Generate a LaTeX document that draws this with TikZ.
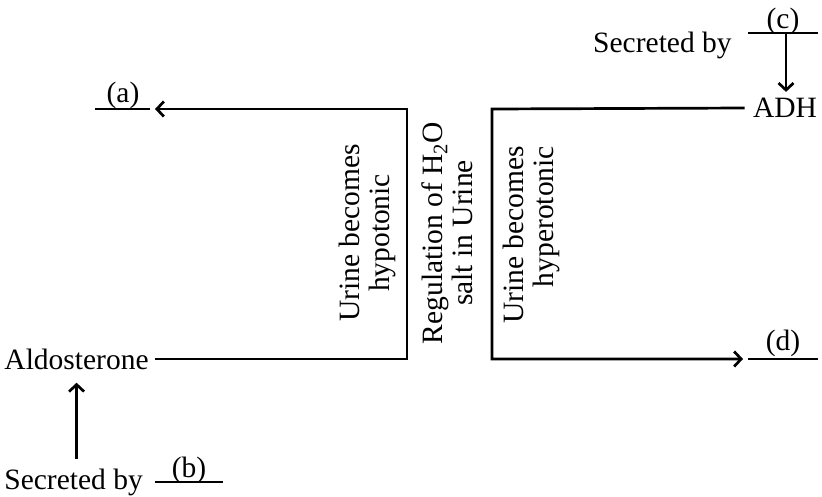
\documentclass[tikz,border=0pt]{standalone}
\usepackage{fontspec}
\setmainfont{Liberation Serif}
\usetikzlibrary{arrows.meta}
\begin{document}
\begin{tikzpicture}[x=1pt,y=-1pt,line width=2.7pt,
  txt/.style={inner sep=0pt,font=\fontsize{29.5}{30}\selectfont},
  arr/.style={-{Straight Barb[length=7pt,width=15pt]}}]
\useasboundingbox (0,0) rectangle (822,496);
% text nodes
\node[txt,anchor=east] (ald) at (150,359) {Aldosterone};
\node[txt,anchor=base west] (sbB) at (3,489) {Secreted by};
\node[txt,anchor=base] (b) at (189,477) {(b)};
\node[txt,anchor=base] (a) at (123,102) {(a)};
\node[txt] (adh) at (785,108) {ADH};
\node[txt,anchor=base east] (sbC) at (733,52) {Secreted by};
\node[txt,anchor=base] (c) at (783,28) {(c)};
\node[txt,anchor=base] (d) at (783,350) {(d)};
\node[txt,rotate=90,align=center] (hypo) at (367,233) {Urine becomes\\hypotonic};
\node[txt,rotate=90,align=center] (reg) at (447,233) {Regulation of H\textsubscript{2}O\\salt in Urine};
\node[txt,rotate=90,align=right] (hyper) at (531,235) {Urine becomes\\hyperotonic};
% coordinates
\coordinate (LT) at (407,109);
\coordinate (LB) at (407,359);
\coordinate (RT) at (492,109);
\coordinate (RB) at (492,359);
\coordinate (aL) at (95,109);
\coordinate (aR) at (150,109);
\coordinate (aTip) at (155,109);
\coordinate (bL) at (155,482);
\coordinate (bR) at (223,482);
\coordinate (cL) at (748,33);
\coordinate (cR) at (818,33);
\coordinate (cTop) at (786,33);
\coordinate (dL) at (748,359);
\coordinate (dR) at (818,359);
\coordinate (dTip) at (743,359);
% connectors
\draw[arr] ([xshift=5pt]ald.east) -- (LB) -- (LT) -- (aTip);
\draw (aL) -- (aR);
\draw[arr] ([xshift=-7pt]adh.west) -- (RT) -- (RB) -- (dTip);
\draw (dL) -- (dR);
\draw (cL) -- (cR);
\draw[arr] (cTop) -- ([yshift=5pt]adh.north -| cTop);
\draw (bL) -- (bR);
\draw[arr] ([yshift=8pt]sbB.north -| ald.south) -- ([yshift=-12pt]ald.south);
\end{tikzpicture}
\end{document}
